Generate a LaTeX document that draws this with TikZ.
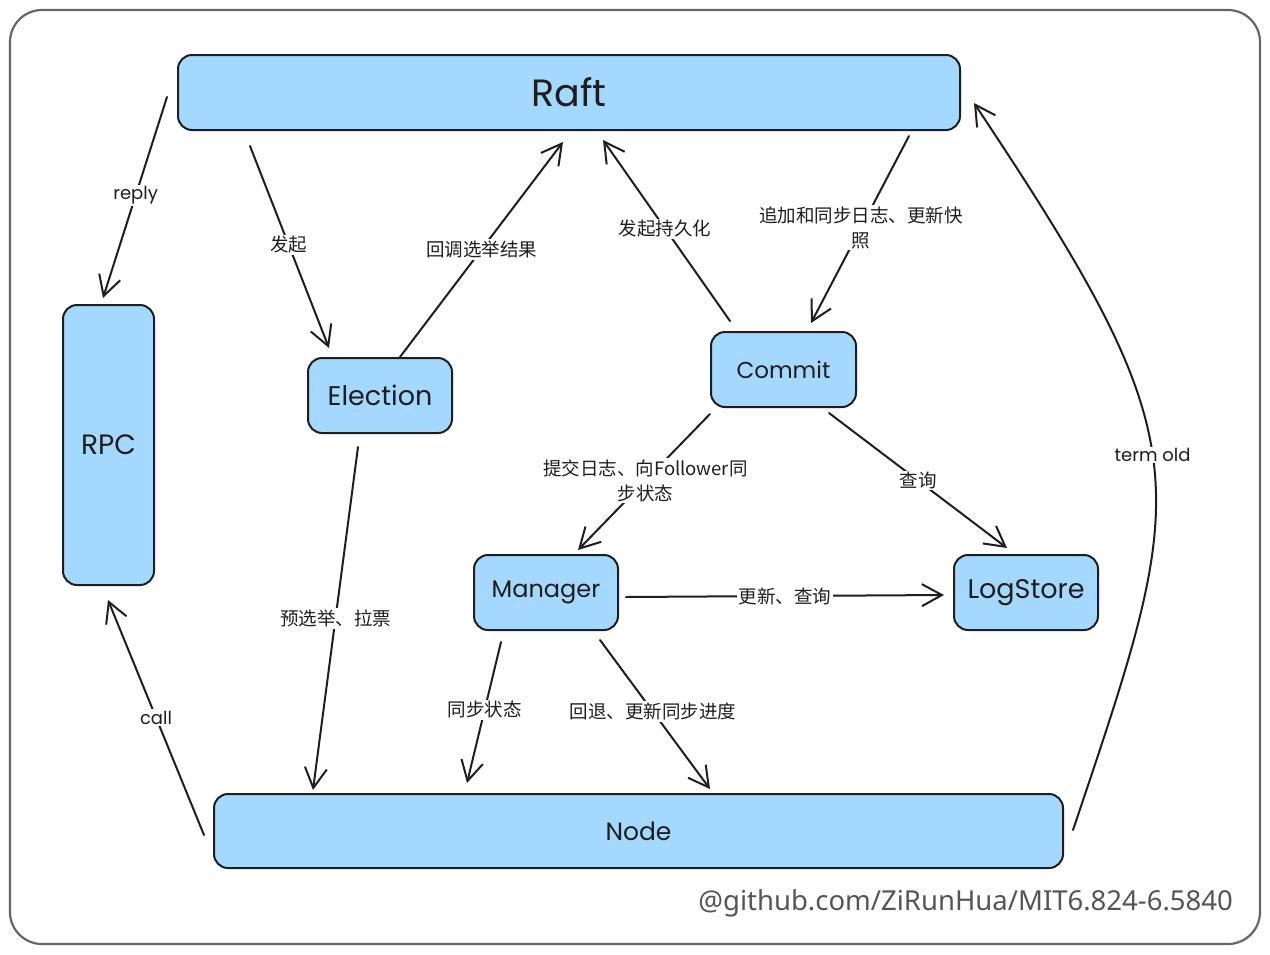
\documentclass[tikz,border=0pt]{standalone}
\usepackage{fontspec}
\setmainfont{Poppins}
\newfontfamily\cjk{Noto Sans CJK SC}
\newfontfamily\wmfont{Noto Sans}
\usetikzlibrary{arrows.meta}
\definecolor{boxfill}{HTML}{A5D8FF}
\definecolor{ink}{HTML}{1E1E1E}
\definecolor{framec}{HTML}{666666}
\definecolor{wmc}{HTML}{555555}
\begin{document}
\begin{tikzpicture}[x=1pt,y=-1pt,
  box/.style={draw=ink, fill=boxfill, line width=2pt, rounded corners=14pt, inner sep=0pt,
    font=\fontsize{24}{28}\selectfont, text=ink},
  conn/.style={draw=ink, line width=2pt, -{Straight Barb[length=20pt,width=22pt]}, line cap=round},
  lbl/.style={fill=white, inner sep=1.5pt, font=\cjk\fontsize{18.5}{25}\selectfont, text=ink, align=center},
  lbllat/.style={fill=white, inner sep=1.5pt, font=\fontsize{18}{22}\selectfont, text=ink}
]
\useasboundingbox (0,0) rectangle (1270,954);
\fill[white] (0,0) rectangle (1270,954);
\draw[framec, line width=2.2pt, rounded corners=32pt] (10,10) rectangle (1260,944);

% boxes
\node[box, minimum width=782pt, minimum height=75pt, font=\fontsize{38}{42}\selectfont] (raft) at (569,92.5) {Raft};
\node[box, minimum width=91pt, minimum height=280pt, font=\fontsize{28}{32}\selectfont] (rpc) at (108.5,445) {RPC};
\node[box, minimum width=144pt, minimum height=75pt, font=\fontsize{27}{30}\selectfont] (election) at (380,395.5) {Election};
\node[box, minimum width=145pt, minimum height=75pt, font=\fontsize{23}{28}\selectfont] (commit) at (783.5,369.5) {Commit};
\node[box, minimum width=144pt, minimum height=75pt] (manager) at (546,592.5) {Manager};
\node[box, minimum width=144pt, minimum height=75pt, font=\fontsize{27}{30}\selectfont] (logstore) at (1026,592.5) {LogStore};
\node[box, minimum width=849pt, minimum height=74pt, font=\fontsize{25}{30}\selectfont] (node) at (638.5,831) {Node};

% connector end points
\coordinate (replyA) at (167,97);   \coordinate (replyB) at (103,298);
\coordinate (startA) at (250,146);  \coordinate (startB) at (329,348);
\coordinate (cbA) at (400,357);     \coordinate (cbB) at (563,142);
\coordinate (perA) at (730,321);    \coordinate (perB) at (603,140);
\coordinate (appA) at (909,136);    \coordinate (appB) at (811,323);
\coordinate (subA) at (710,414);    \coordinate (subB) at (578,550);
\coordinate (qA) at (829,413);      \coordinate (qB) at (1007,548);
\coordinate (uqA) at (626,597);     \coordinate (uqB) at (944,595);
\coordinate (preA) at (358,447);    \coordinate (preB) at (313,790);
\coordinate (syA) at (501,642);     \coordinate (syB) at (467,783);
\coordinate (rbA) at (600,640);     \coordinate (rbB) at (710,789);
\coordinate (callA) at (204,835);   \coordinate (callB) at (108,600);
\coordinate (termA) at (1073,830);  \coordinate (termB) at (974,103);

\draw[conn] (replyA) -- node[lbllat, pos=0.49] (lreply) {reply} (replyB);
\draw[conn] (startA) -- node[lbl, pos=0.49] (lstart) {发起} (startB);
\draw[conn] (cbA) -- node[lbl, pos=0.5] (lcb) {回调选举结果} (cbB);
\draw[conn] (perA) -- node[lbl, pos=0.51] (lper) {发起持久化} (perB);
\draw[conn] (appA) -- node[lbl, pos=0.49] (lapp) {追加和同步日志、更新快\\照} (appB);
\draw[conn] (subA) -- node[lbl, pos=0.49] (lsub) {提交日志、向Follower同\\步状态} (subB);
\draw[conn] (qA) -- node[lbl, pos=0.5] (lq) {查询} (qB);
\draw[conn] (uqA) -- node[lbl, pos=0.5] (luq) {更新、查询} (uqB);
\draw[conn] (preA) -- node[lbl, pos=0.5] (lpre) {预选举、拉票} (preB);
\draw[conn] (syA) -- node[lbl, pos=0.48] (lsy) {同步状态} (syB);
\draw[conn] (rbA) -- node[lbl, pos=0.48] (lrb) {回退、更新同步进度} (rbB);
\draw[conn] (callA) -- node[lbllat, pos=0.5] (lcall) {call} (callB);
\draw[conn] (termA) .. controls (1190,482) and (1205,450) .. node[lbllat, pos=0.52] (lterm) {term old} (termB);

\node[anchor=east, font=\wmfont\fontsize{27.5}{30}\selectfont, text=wmc, inner sep=0pt] (wm) at (1233,903) {@github.com/ZiRunHua/MIT6.824-6.5840};
\end{tikzpicture}
\end{document}
